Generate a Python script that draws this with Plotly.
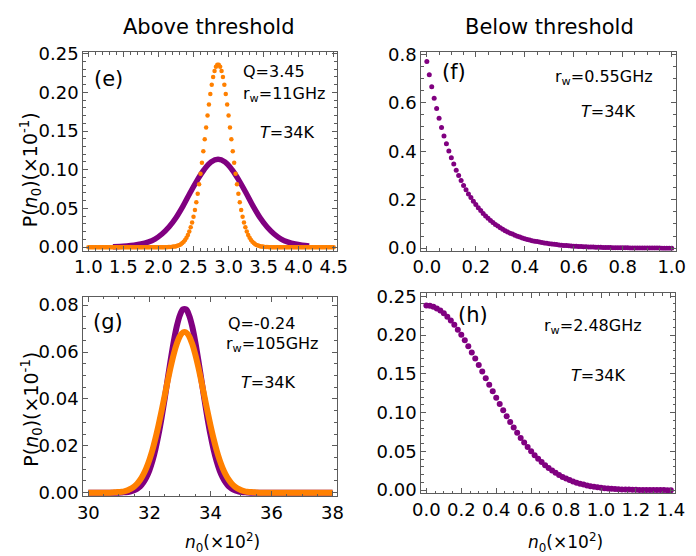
import plotly.graph_objects as go

W, H = 696, 556

# ---------------- data ----------------
# (e) above threshold, Q=3.45, r_w=11GHz
purple_e_x = [1.35, 1.45, 1.55, 1.65, 1.75, 1.85, 1.95, 2.05, 2.15, 2.25, 2.35, 2.45, 2.55, 2.65, 2.75,
              2.85, 2.95, 3.05, 3.15, 3.25, 3.35, 3.45, 3.55, 3.65, 3.75, 3.85, 3.95, 4.05, 4.15]
purple_e_y = [0.0005, 0.0008, 0.0015, 0.0025, 0.004, 0.0065, 0.0105, 0.017, 0.026, 0.038, 0.053, 0.070, 0.086, 0.100, 0.110,
              0.1135, 0.110, 0.100, 0.086, 0.070, 0.053, 0.038, 0.026, 0.017, 0.0105, 0.0065, 0.004, 0.0025, 0.0015]

orange_e_x0, orange_e_dx = 1.00, 0.02
orange_e_y = [
    0, 0, 0, 0, 0, 0, 0, 0, 0, 0,
    0, 0, 0, 0, 0, 0, 0, 0, 0, 0,
    0, 0, 0, 0, 0, 0, 0, 0, 0, 0,
    0, 0, 0, 0, 0, 0, 0, 0, 0, 0,
    0, 0, 0, 0, 0, 0, 0, 0, 0, 0,
    0, 0, 0, 0, 0, 0, 0,
    0.0001, 0.0002, 0.0003, 0.0005, 0.0007, 0.0010, 0.0015, 0.0020, 0.0028, 0.0039,
    0.0053, 0.0071, 0.0094, 0.0123, 0.0158, 0.0202, 0.0256, 0.0319, 0.0394, 0.0481,
    0.0580, 0.0691, 0.0813, 0.0947, 0.1090, 0.1239, 0.1393, 0.1547, 0.1699, 0.1844,
    0.1978, 0.2097, 0.2197, 0.2275, 0.2329, 0.2357,
    0.2357, 0.2329, 0.2275, 0.2197, 0.2097, 0.1978, 0.1844, 0.1699, 0.1547, 0.1393,
    0.1239, 0.1090, 0.0947, 0.0813, 0.0691, 0.0580, 0.0481, 0.0394, 0.0319, 0.0256,
    0.0202, 0.0158, 0.0123, 0.0094, 0.0071, 0.0053, 0.0039, 0.0028, 0.0020, 0.0015,
    0.0010, 0.0007, 0.0005, 0.0003, 0.0002, 0.0001,
    0, 0, 0, 0, 0, 0, 0, 0, 0, 0,
    0, 0, 0, 0, 0, 0, 0, 0, 0, 0,
    0, 0, 0, 0, 0, 0, 0, 0, 0, 0,
    0, 0, 0, 0, 0, 0, 0, 0, 0, 0,
    0, 0, 0, 0, 0, 0, 0,
]

# (f) below threshold, r_w=0.55GHz
purple_f_x0, purple_f_dx = 0.0, 0.01
purple_f_y = [
    0.770, 0.716, 0.666, 0.619, 0.576, 0.536, 0.498, 0.463, 0.431, 0.401,
    0.373, 0.347, 0.322, 0.300, 0.279, 0.259, 0.241, 0.224, 0.209, 0.194,
    0.180, 0.167, 0.155, 0.143, 0.133, 0.123, 0.114, 0.106, 0.098, 0.091,
    0.084, 0.078, 0.072, 0.067, 0.062, 0.058, 0.053, 0.049, 0.046, 0.042,
    0.039, 0.036, 0.034, 0.031, 0.029, 0.027, 0.025, 0.023, 0.021, 0.020,
    0.018, 0.017, 0.016, 0.015, 0.013, 0.012, 0.011, 0.011, 0.010, 0.009,
    0.008, 0.008, 0.007, 0.007, 0.006, 0.006, 0.005, 0.005, 0.005, 0.004,
    0.004, 0.004, 0.003, 0.003, 0.003, 0.003, 0.002, 0.002, 0.002, 0.002,
    0.002, 0.002, 0.002, 0.001, 0.001, 0.001, 0.001, 0.001, 0.001, 0.001,
    0.001, 0.001, 0.001, 0.001, 0.001, 0.001, 0.0, 0.0, 0.0, 0.0,
    0.0,
]

# (g) above threshold, Q=-0.24, r_w=105GHz
g_x0, g_dx = 30.0, 0.1
purple_g_y = [
    0, 0, 0, 0, 0, 0, 0, 0, 0, 0, 0,
    0.0001, 0.0002, 0.0003, 0.0006, 0.0010, 0.0017, 0.0027, 0.0043, 0.0065, 0.0095,
    0.0135, 0.0186, 0.0248, 0.0320, 0.0400, 0.0485, 0.0568, 0.0646, 0.0711, 0.0757, 0.0782,
    0.0782, 0.0757, 0.0711, 0.0646, 0.0568, 0.0485, 0.0400, 0.0320, 0.0248, 0.0186,
    0.0135, 0.0095, 0.0065, 0.0043, 0.0027, 0.0017, 0.0010, 0.0006, 0.0003, 0.0002, 0.0001,
    0, 0, 0, 0, 0, 0, 0, 0, 0, 0,
    0, 0, 0, 0, 0, 0, 0, 0, 0, 0,
    0, 0, 0, 0, 0, 0, 0, 0,
]
orange_g_y = [
    0, 0, 0, 0, 0, 0, 0, 0,
    0.0001, 0.0002, 0.0003, 0.0004, 0.0007, 0.0011, 0.0017, 0.0026, 0.0038, 0.0055,
    0.0077, 0.0105, 0.0140, 0.0182, 0.0232, 0.0288, 0.0349, 0.0413, 0.0477, 0.0538,
    0.0592, 0.0636, 0.0668, 0.0684,
    0.0684, 0.0668, 0.0636, 0.0592, 0.0538, 0.0477, 0.0413, 0.0349, 0.0288, 0.0232,
    0.0182, 0.0140, 0.0105, 0.0077, 0.0055, 0.0038, 0.0026, 0.0017, 0.0011, 0.0007,
    0.0004, 0.0003, 0.0002, 0.0001,
    0, 0, 0, 0, 0, 0, 0, 0, 0, 0,
    0, 0, 0, 0, 0, 0, 0, 0, 0, 0,
    0, 0, 0, 0, 0,
]

# (h) below threshold, r_w=2.48GHz
purple_h_x0, purple_h_dx = 0.0, 0.02
purple_h_y = [
    0.2380, 0.2376, 0.2364, 0.2343, 0.2315, 0.2279, 0.2236, 0.2187, 0.2131, 0.2069,
    0.2002, 0.1931, 0.1854, 0.1775, 0.1696, 0.1612, 0.1529, 0.1443, 0.1358, 0.1274,
    0.1191, 0.1110, 0.1030, 0.0953, 0.0878, 0.0807, 0.0739, 0.0674, 0.0613, 0.0556,
    0.0501, 0.0451, 0.0404, 0.0362, 0.0322, 0.0286, 0.0253, 0.0223, 0.0196, 0.0171,
    0.0149, 0.0130, 0.0112, 0.0097, 0.0084, 0.0072, 0.0061, 0.0052, 0.0044, 0.0037,
    0.0031, 0.0026, 0.0022, 0.0018, 0.0015, 0.0013, 0.0010, 0.0008, 0.0007, 0.0005,
    0.0004, 0.0003, 0.0003, 0.0002, 0.0002, 0.0001, 0.0001, 0.0001, 0.0001, 0.0,
    0.0,
]


def grid(x0, dx, n):
    return [round(x0 + dx * i, 4) for i in range(n)]


PURPLE = "rgb(128,0,128)"
ORANGE = "rgb(255,128,0)"
FRAME = "#5c5c5c"
FONT = "DejaVu Sans, Verdana, sans-serif"


def px(x):
    return x / W


def py(y):
    return 1 - y / H


fig = go.Figure()

# (e)
fig.add_trace(go.Scatter(x=purple_e_x, y=purple_e_y, mode="lines",
                         line=dict(color=PURPLE, width=5.5, shape="spline"),
                         xaxis="x", yaxis="y", showlegend=False))
fig.add_trace(go.Scatter(x=grid(orange_e_x0, orange_e_dx, len(orange_e_y)), y=orange_e_y, mode="markers",
                         marker=dict(color=ORANGE, size=4.5), xaxis="x", yaxis="y", showlegend=False))
# (f)
fig.add_trace(go.Scatter(x=grid(purple_f_x0, purple_f_dx, len(purple_f_y)), y=purple_f_y, mode="markers",
                         marker=dict(color=PURPLE, size=5), xaxis="x2", yaxis="y2", showlegend=False))
# (g)
fig.add_trace(go.Scatter(x=grid(g_x0, g_dx, len(purple_g_y)), y=purple_g_y, mode="lines",
                         line=dict(color=PURPLE, width=6, shape="spline"),
                         xaxis="x3", yaxis="y3", showlegend=False))
fig.add_trace(go.Scatter(x=grid(g_x0, g_dx, len(orange_g_y)), y=orange_g_y, mode="lines",
                         line=dict(color=ORANGE, width=6, shape="spline"),
                         xaxis="x3", yaxis="y3", showlegend=False))
# (h)
fig.add_trace(go.Scatter(x=grid(purple_h_x0, purple_h_dx, len(purple_h_y)), y=purple_h_y, mode="markers",
                         marker=dict(color=PURPLE, size=6), xaxis="x4", yaxis="y4", showlegend=False))


def axis(domain_px, rng, dtick, mdtick, fmt, anchor, horizontal):
    if horizontal:
        dom = [px(domain_px[0]), px(domain_px[1])]
    else:
        dom = [py(domain_px[1]), py(domain_px[0])]
    return dict(domain=dom, range=rng, anchor=anchor, showline=True, linecolor=FRAME, linewidth=1,
                mirror="ticks", ticks="inside", ticklen=5, tickwidth=1, tickcolor=FRAME,
                tick0=0, dtick=dtick, tickformat=fmt,
                minor=dict(dtick=mdtick, tick0=0, ticks="inside", ticklen=2.5, tickcolor=FRAME, tickwidth=1),
                showgrid=False, zeroline=False,
                tickfont=dict(family=FONT, size=18, color="black"))


fig.update_layout(
    width=W, height=H, margin=dict(l=0, r=0, t=0, b=0),
    paper_bgcolor="white", plot_bgcolor="white",
    xaxis=axis([76.5, 337.5], [0.928, 4.544], 0.5, 0.1, ".1f", "y", True),
    yaxis=axis([44.5, 249.5], [-0.0048, 0.2519], 0.05, 0.01, ".2f", "x", False),
    xaxis2=axis([424.5, 686.3], [-0.0226, 1.0158], 0.2, 0.05, ".1f", "y2", True),
    yaxis2=axis([44.5, 249.5], [-0.0112, 0.8089], 0.2, 0.05, ".1f", "x2", False),
    xaxis3=axis([76.5, 337.5], [29.835, 38.14], 2, 0.5, "d", "y3", True),
    yaxis3=axis([296.8, 502.8], [-0.0016, 0.0836], 0.02, 0.005, ".2f", "x3", False),
    xaxis4=axis([424.5, 686.0], [-0.029, 1.4254], 0.2, 0.05, ".1f", "y4", True),
    yaxis4=axis([293.0, 499.7], [-0.0042, 0.2541], 0.05, 0.01, ".2f", "x4", False),
)

ann = []


def text(x, y, s, size=16, angle=0):
    ann.append(dict(x=px(x), y=py(y), xref="paper", yref="paper", text=s, showarrow=False,
                    xanchor="center", yanchor="middle", textangle=angle,
                    font=dict(family=FONT, size=size, color="black")))


text(205, 19, "Above threshold", 21)
text(556, 19, "Below threshold", 21)

text(102, 72, "(e)", 21)
text(273, 64, "Q=3.45", 16)
text(283, 88, "r<sub>w</sub>=11GHz", 16)
text(287, 127, "<i>T</i>=34K", 16)

text(458, 65, "(f)", 21)
text(613, 71, "r<sub>w</sub>=0.55GHz", 16)
text(617, 106, "<i>T</i>=34K", 16)

text(102, 323, "(g)", 21)
text(260, 324, "Q=-0.24", 16)
text(271, 346, "r<sub>w</sub>=105GHz", 16)
text(267, 385, "<i>T</i>=34K", 16)

text(478, 316, "(h)", 21)
text(601, 328, "r<sub>w</sub>=2.48GHz", 16)
text(607, 378, "<i>T</i>=34K", 16)

text(23, 166, "P(<i>n</i><sub>0</sub>)(×10<sup>-1</sup>)", 19, -90)
text(23, 413, "P(<i>n</i><sub>0</sub>)(×10<sup>-1</sup>)", 19, -90)
text(220, 550, "<i>n</i><sub>0</sub>(×10<sup>2</sup>)", 17)
text(573, 550, "<i>n</i><sub>0</sub>(×10<sup>2</sup>)", 17)

fig.update_layout(annotations=ann)

fig.write_html("out.html", config={"displayModeBar": False},
               post_script="document.body.style.margin='0px';document.body.style.overflow='hidden';")
